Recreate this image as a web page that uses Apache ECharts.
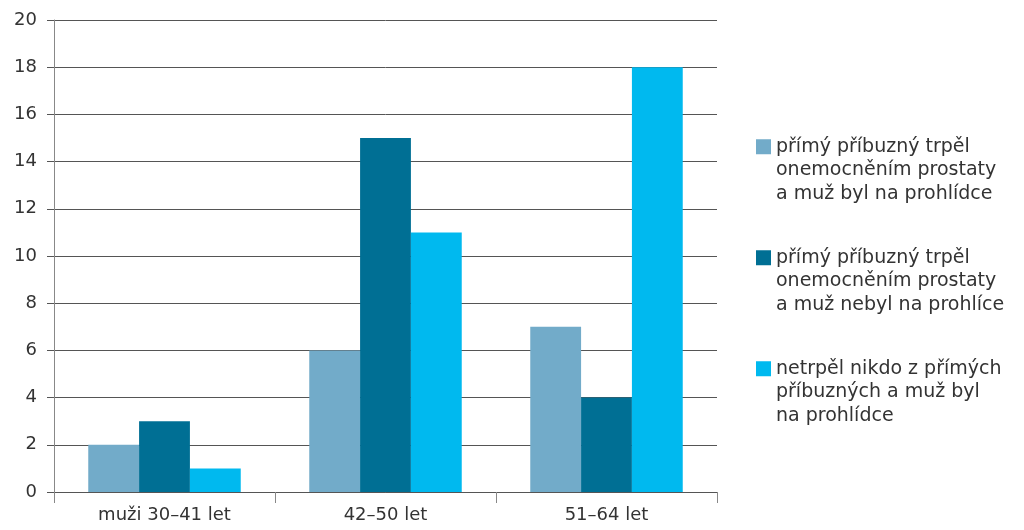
<!DOCTYPE html>
<html><head><meta charset="utf-8">
<script src="https://cdn.jsdelivr.net/npm/echarts@6/dist/echarts.min.js"></script>
<style>html,body{margin:0;padding:0;background:#fff}#c{width:1024px;height:530px}</style>
</head><body><div id="c"></div>
<script>
const categories = ['muži 30–41 let', '42–50 let', '51–64 let'];
const seriesNames = [
  'přímý příbuzný trpěl\nonemocněním prostaty\na muž byl na prohlídce',
  'přímý příbuzný trpěl\nonemocněním prostaty\na muž nebyl na prohlíce',
  'netrpěl nikdo z přímých\npříbuzných a muž byl\nna prohlídce'
];
const valuesA = [2, 6, 7];
const valuesB = [3, 15, 4];
const valuesC = [1, 11, 18];
const colors = ['#72abc9', '#006f94', '#00b9ef'];
const FONT = 'DejaVu Sans';
const chart = echarts.init(document.getElementById('c'));
chart.setOption({
  animation: false,
  textStyle: { fontFamily: FONT },
  grid: { left: 54, right: 307, top: 20, bottom: 38, containLabel: false },
  legend: {
    orient: 'vertical', left: 751, top: 83,
    itemWidth: 15, itemHeight: 15, itemGap: -6.5,
    icon: 'rect',
    formatter: function (name) { return '\n\n' + name; },
    textStyle: { fontFamily: FONT, fontSize: 19, color: '#333', lineHeight: 23.5 },
    data: seriesNames
  },
  xAxis: {
    type: 'category', data: categories,
    axisLine: { lineStyle: { color: '#555', width: 1 } },
    axisTick: { show: true, length: 11, lineStyle: { color: '#888' } },
    axisLabel: { fontSize: 18, color: '#333', margin: 14, fontFamily: FONT }
  },
  yAxis: {
    type: 'value', min: 0, max: 20, interval: 2,
    axisLine: { show: true, lineStyle: { color: '#888' } },
    axisTick: { show: true, length: 7, lineStyle: { color: '#555' } },
    splitLine: { lineStyle: { color: '#555', width: 1 } },
    axisLabel: { fontSize: 18, color: '#333', margin: 17, fontFamily: FONT }
  },
  series: [
    { name: seriesNames[0], type: 'bar', data: valuesA, itemStyle: { color: colors[0] }, barGap: '0%', barCategoryGap: '31%' },
    { name: seriesNames[1], type: 'bar', data: valuesB, itemStyle: { color: colors[1] }, barGap: '0%', barCategoryGap: '31%' },
    { name: seriesNames[2], type: 'bar', data: valuesC, itemStyle: { color: colors[2] }, barGap: '0%', barCategoryGap: '31%' }
  ]
});
</script></body></html>
